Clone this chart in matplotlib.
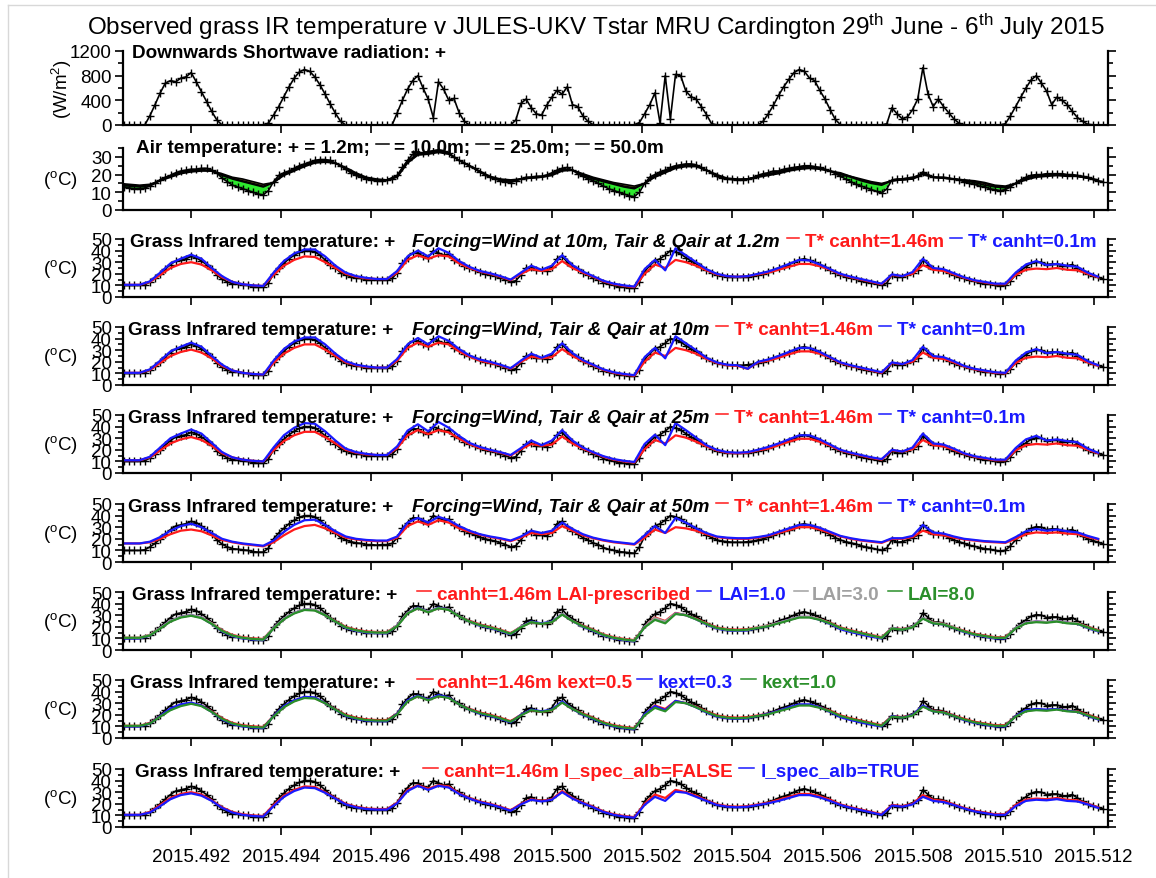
import numpy as np
import matplotlib
matplotlib.use('Agg')
import matplotlib.pyplot as plt
from matplotlib.lines import Line2D
from matplotlib.ticker import MultipleLocator

W, H = 1156, 879
plt.rcParams['font.family'] = ['Liberation Sans', 'DejaVu Sans']
plt.rcParams['mathtext.fontset'] = 'custom'
plt.rcParams['mathtext.rm'] = 'Liberation Sans'
plt.rcParams['mathtext.it'] = 'Liberation Sans:italic'
plt.rcParams['mathtext.bf'] = 'Liberation Sans:bold'

# ---------------- data (hourly obs from 29 June 2015 00 UTC) ----------------
start_doy = 179  # 29 June (days elapsed in 2015)

sw_obs = [
    0,0,0,0,0,0,150,330,520,680,720,700,760,780,850,700,540,380,220,80,0,0,0,0,
    0,0,0,0,0,30,160,300,460,620,760,860,900,870,780,650,500,340,190,60,0,0,0,0,
    0,0,0,0,0,0,200,400,580,720,800,600,420,120,700,580,400,430,200,60,0,0,0,0,
    0,0,0,0,0,80,350,420,280,180,160,320,450,560,500,620,330,300,150,60,5,0,0,0,
    0,0,0,0,0,40,180,330,520,30,800,100,820,800,550,460,420,300,170,20,0,0,0,0,
    0,0,0,0,0,60,180,320,480,620,740,850,900,870,760,720,560,420,250,90,5,0,0,0,
    0,0,0,0,0,20,280,180,100,130,250,420,930,500,300,420,300,200,100,30,0,0,0,0,
    0,0,0,0,20,150,300,450,600,730,800,680,550,330,450,400,330,220,120,60,10,0,0,0]

tair_1p2m = [
    13,13,12.5,12,12,12.5,13.5,15,17,18.5,19.5,21,22,22.5,23,23,23.5,23.5,22.5,21,18,16,14,13,
    12,11,10,9,8.5,11,16,19.5,21,22,23.5,25,26,27,28,28.5,28.5,28,26.5,25,23,21,19.5,18.5,
    17.5,17,16.5,16.5,17,17.5,19.5,24,28,31.5,32.5,32,33,33.5,34,33.5,32,30,28,26.5,25,23.5,21.5,20,
    18.5,17.5,16.5,16,15.5,16.5,17.5,18.5,18.5,19,19,19.5,21,22.5,23.5,24,22.5,20.5,19,17.5,16.5,15,13.5,12,
    11,10,9,8,7.5,10,15,18.5,20,21.5,22.5,24,25,25.5,26,26,25.5,24,22.5,21,19,18,17.5,17.5,
    17,17,17.5,18,19.5,20.5,21,22,22,23,23.5,24,24.5,25,25,24.5,24,23,22,20.5,19,17.5,16,14.5,
    13.5,12.5,11.5,10.5,9.5,12,17,17.5,17.5,18,18.5,19,21.5,20,18.5,18.5,18.5,18,17.5,17,16,15,14.5,13.5,
    13,12,11.5,11,11.5,13,15,17,18.5,19.5,20,20,20.5,20.5,20.5,20.5,20,20,19.5,19,18.5,17.5,16.5,16]

# 2-hourly air temperature at upper levels
tair_10m = [
    14,13.5,13,14,17,19.5,21.5,22.5,23,22,19.5,17.5,
    16,14.5,13,15.5,20.5,23,25.5,27.5,28,26.5,23,20,
    18,17,17,19.5,27.5,32,32.5,33.5,32,28,25,21.5,
    18.5,17,16,17.5,18.5,19,20.5,23,22.5,19.5,17.5,16,
    14.5,13,12,15,19.5,22,24.5,25.5,25,22.5,19,17.5,
    17,17.5,19,20.5,21.5,23,24,24.5,23.5,22,20,18.5,
    16.5,15,14,16.5,17.5,18,21,18.5,18,17.5,16.5,15.5,
    14,13,12.5,15,18,19.5,20,20,19.5,19,18,16.5]
tair_25m = [
    14.5,14,13.5,14,16.5,19,21,22,22.5,22,20,18,
    16.5,15,13.5,15.5,20,22.5,25,27,27.5,26.5,23.5,20.5,
    18,17,17,19,27,31.5,32,33,32,28,25,21.5,
    18.5,17,16.5,17.5,18,18.5,20,22.5,22.5,20,18,16.5,
    15,13.5,12.5,15,19,21.5,24,25,25,22.5,19.5,17.5,
    17,17.5,19,20,21,22.5,23.5,24,23.5,22,20.5,19,
    17,15.5,14.5,16.5,17,17.5,20.5,18.5,18,17.5,17,16,
    15,13.5,13,15,17.5,19,19.5,19.5,19.5,19,18,16.5]
tair_50m = [
    15,14.5,14,14.5,16.5,18.5,20.5,21.5,22,22,20.5,18.5,
    17.5,16,14.5,15.5,19.5,22,24.5,26.5,27,26.5,24,21,
    18.5,17.5,17,18.5,26.5,31,31.5,32.5,31.5,28,25,22,
    19,17.5,17,17.5,18,18.5,19.5,22,22.5,20.5,18.5,17,
    15.5,14.5,13.5,15,18.5,21,23.5,24.5,24.5,22.5,20,18,
    17.5,17.5,18.5,19.5,20.5,22,23,23.5,23,22,21,19,
    17.5,16,15,16.5,17,17.5,20,18.5,18,17.5,17,16.5,
    15.5,14,13.5,15,17,18.5,19,19.5,19,19,18,17]

tgrass_obs = [
    10.5,10,10,10,10,10.5,13,16,20,24,28,31,32,33,35,34,31,28,24,19,15.5,13,11.5,11,
    10.5,10,9,8.5,8.5,12,20,25,29,33,36,38.5,40,40,39,36,32,28,25,21,19,17.5,16.5,16,
    15,15,14.5,15,15,16,21,29,34,38,38,35,34,40,38,36,37,32,30,27,25,23.5,21.5,20,
    19,18,16.5,15,13,14,19,25,26,23,23,22.5,26,33,35,30,27,24,21,19,16.5,15,12.5,11,
    10,9,8.5,8,7.5,13,22,27,31,33,36,40,39,37,34,31,29,26,23,21,19,18,17.5,17,
    17,17,17.5,18,19,20,21.5,23,25,26.5,28,30,32,33,31.5,30,28,26,23.5,21,19,17.5,16.5,15.5,
    14,13,12,11,10,12,19,17,17.5,19,21,23,32,28,24,24,23,21,19,17.5,16,14.5,13.5,12.5,
    11.5,11,10,9.5,10,14,19,23,26,29,30.5,30,28,28.5,28.5,27,27,28,25,22,20,18.5,17,15.5]

# ---------------- JULES T* (2-hourly) ----------------
tstar_canht146_f12 = [
    10.5,10.5,10.5,13,19,25,28.5,30,28,23,17,13,
    11,10,9.5,19,27,32,35,34.5,30,25,20,17.5,
    16,15.5,15.5,21,32,36,33,36,35,29,25,22,
    20,17.5,14.5,20,24,22.5,24,31,25,21,17.5,13.5,
    11,9.5,8.5,20,28,25,32,30,27,23,19.5,18,
    17.5,18,19.5,21,23.5,26,28.5,28.5,26.5,23.5,19.5,17,
    15,13,11,19,18,20,27.5,23.5,22.5,19.5,16.5,14,
    12.5,11,11,19,23.5,24.5,24,25,23.5,23,20,17]
tstar_canht01_f12 = [
    10.5,10.5,10.5,13.5,21,29,33,36.5,33,25,18,13,
    11,10,9.5,21,31,37.5,41,41,35,27,21,18,
    16.5,15.5,15.5,22.5,35,40,35,42,38,31,26,22.5,
    20.5,18,15,21,27,23.5,27,36,27.5,22,18,14,
    11.5,10,9,24,32,23,42,36,30,24,20,18,
    17.5,18,20,22,25,28.5,32,31.5,28,24,20,17.5,
    15.5,13.5,11.5,19.5,18,21.5,33,25,24,20.5,17,14.5,
    13,11.5,11.5,21,28,31,27.5,28.5,27,26,21,17.5]
tstar_canht146_f10 = [
    10.5,10.5,10.5,13,19,25,28.5,30.5,28,23,16.5,12.5,
    10.5,9.5,9,19,27,32,35,35,30.5,25,19.5,17,
    15.5,15,15,21,32,36.5,33,36.5,35,29,24.5,21,
    19,17,14,20,24.5,23,24,31,25,20.5,17,13,
    10.5,9,8,20,28,25,32,30,27,22.5,19,17,
    16.5,14,19.5,21,23.5,26.5,29,29,27,23.5,19,16.5,
    14.5,12.5,10.5,19,18,20,28,23.5,22.5,19.5,16,13.5,
    12,10.5,10,19,23.5,24.5,24,25,23.5,23,19.5,16.5]
tstar_canht01_f10 = [
    10.5,10.5,10.5,13.5,21,29,33,36.5,33,25,17.5,12.5,
    10.5,9.5,9,21,31,37.5,41,41,35,27,20.5,17.5,
    16,15,15,22.5,35,40.5,35,42,38,31,25.5,22,
    20,17.5,14.5,21,27,23.5,27,36,27.5,21.5,17.5,13.5,
    11,9.5,8.5,24,32,23,42,36,30,23.5,19.5,17.5,
    17,14,20,22,25,28.5,32,32,28.5,24,19.5,17,
    15,13,11,19.5,18,21.5,33,25,24,20.5,16.5,14,
    12.5,11,10.5,21,28,31,27.5,28.5,27,26,20.5,17]
tstar_canht146_f25 = [
    11,11,11,13.5,19.5,25.5,29,31,28.5,23.5,17,13.5,
    11.5,10.5,10,19.5,27.5,32.5,35.5,35.5,31,25.5,20,17.5,
    16,15.5,15.5,21.5,32.5,37,33.5,37,35,29.5,25,21.5,
    19.5,17.5,15,20.5,25,23.5,24.5,31.5,25.5,21,17.5,14,
    11.5,10,9,20.5,28.5,25.5,32.5,30.5,27,23,19.5,17.5,
    17,17.5,19.5,21,24,27,29.5,29.5,27,23.5,19.5,17,
    15,13,11.5,19.5,18.5,20.5,28.5,24,23,20,16.5,14,
    12.5,11,11,19.5,24,25,24.5,25.5,24,23.5,20,17]
tstar_canht01_f25 = [
    11,11,11,14,22,30,34,37.5,34,26,18,13.5,
    11.5,10.5,10,22,32.5,39,43,42.5,36,28,21,18,
    16.5,15.5,15.5,23,36.5,42,36,44,39,32,26,22.5,
    20,18,15.5,21.5,28,24,28,37,28,22,18,14.5,
    12,10.5,9.5,25,33,24,43,37,30.5,24,20,18,
    17.5,18,20,22.5,25.5,29,32.5,32.5,29,24.5,20,17.5,
    15.5,13.5,12,20,18.5,22,34,25.5,24.5,21,17,14.5,
    13,11.5,11.5,21.5,29,32,28,29,27.5,26.5,21,17.5]
tstar_canht146_f50 = [
    16,16,16,17,20,24,27,28,26.5,23,19,17,
    15.5,14.5,13.5,17,23,28,31,32,29,25,21,19.5,
    18.5,18,18,21,31,35,32,36,34,29,26,23.5,
    21.5,20,18,21,25,24,25,31,27,23,20.5,18.5,
    17,16,15,21,28,25,30,29,27,24,21.5,20.5,
    20,20,21,22.5,25,27.5,30,30,28,25,22,20,
    18.5,17.5,16.5,20,20,21.5,27,24,23,21,19.5,18.5,
    17.5,17,16.5,20,24,25.5,25,25.5,24.5,24,21.5,19.5]
tstar_canht01_f50 = [
    16,16,16,17.5,21.5,27,31,33,30,25,20,17.5,
    16,15,14,18.5,26,32,36,36.5,32,26.5,22,20,
    19,18.5,18.5,22,34,38,34,39,36,31,27,24,
    22,20.5,18.5,22,27,25,27,34,28.5,24,21,19,
    17.5,16.5,15.5,23,31,25,38,34,29,25,22,21,
    20.5,20.5,21.5,23,26,29,32,32,29.5,26,22.5,20.5,
    19,18,17,20.5,20.5,22.5,32,25.5,24.5,22,20,19,
    18,17.5,17,21.5,26.5,28.5,27,28,26.5,25.5,22.5,20]
tstar_lai1 = [
    10,10,10,12.5,19,25,28.5,30,28,22.5,16,12,
    10,9,8.5,19,27,32,35,34.5,30,24.5,19,16.5,
    15,14.5,14.5,21,32,36.5,33,36.5,35,29,24.5,21,
    19,16.5,13.5,20,24.5,23,24.5,31,25,20,16.5,12.5,
    10,8.5,7.5,20,27,24,31.5,30,26.5,22,18.5,17,
    16.5,17,19,20.5,23.5,26,28.5,28.5,26,22.5,18,15.5,
    13.5,11.5,10,19,17.5,20,27.5,23,22,19,15.5,13,
    11.5,10,10,19,23.5,24.5,24,25,23.5,22.5,19,16]
tstar_lai3 = [
    10.5,10.5,10.5,13,19,25,28.5,30,28,23,16.5,12.5,
    10.5,9.5,9,19,27,32,35,34.5,30,24.5,19.5,17,
    15.5,15,15,21,32,36,33,36,35,29,24.5,21.5,
    19.5,17,14,20,24,22.5,24,31,25,20.5,17,13,
    10.5,9,8,20,27.5,24.5,31.5,30,26.5,22.5,19,17.5,
    17,17.5,19.5,21,23.5,26,28.5,28.5,26.5,23,19,16.5,
    14.5,12.5,10.5,19,17.5,20,27.5,23.5,22.5,19.5,16,13.5,
    12,10.5,10.5,19,23.5,24.5,24,25,23.5,23,19.5,16.5]
tstar_lai8 = [
    10.5,10.5,10.5,12.5,18.5,24.5,28,29.5,27.5,22.5,16.5,12.5,
    10.5,9.5,9,18.5,26.5,31.5,34.5,34,30,24.5,19.5,17,
    15.5,15,15,20.5,31.5,36,32.5,36,34.5,29,24.5,21.5,
    19.5,17,14,19.5,24,22.5,24,30.5,25,20.5,17,13,
    10.5,9,8,19.5,26,23,31,30,26.5,22.5,19,17.5,
    17,17.5,19,20.5,23,25.5,28,28,26,23,19,16.5,
    14.5,12.5,10.5,18.5,17.5,19.5,27,23,22,19,16,13.5,
    12,10.5,10.5,18.5,23,24,23.5,24.5,23,22.5,19.5,16.5]
tstar_kext03 = [
    10,10,10,12.5,19,25.5,29,30.5,28,22.5,16,12,
    10,9,8.5,19,27.5,32.5,35.5,35,30,24.5,19,16.5,
    15,14.5,14.5,21,32.5,36.5,33,37,35,29,24.5,21,
    19,16.5,13.5,20,24.5,23,24.5,31.5,25,20,16.5,12.5,
    10,8.5,7.5,20.5,27.5,24,32,30,26.5,22,18.5,17,
    16.5,17,19,21,23.5,26.5,29,29,26.5,22.5,18,15.5,
    13.5,11.5,10,19,17.5,20,28,23,22,19,15.5,13,
    11.5,10,10,19,24,25,24.5,25,23.5,22.5,19,16]
tstar_kext10 = [
    10.5,10.5,10.5,12.5,18.5,24,27.5,29.5,27.5,22.5,16.5,12.5,
    10.5,9.5,9,18.5,26.5,31.5,34.5,34,30,24.5,19.5,17,
    15.5,15,15,20.5,31.5,36,32.5,36,34.5,29,24.5,21.5,
    19.5,17,14,19.5,24,22.5,24,30.5,25,20.5,17,13,
    10.5,9,8,19.5,26,23,31,30,26.5,22.5,19,17.5,
    17,17.5,19,20.5,23,25.5,28,28,26,23,19,16.5,
    14.5,12.5,10.5,18.5,17.5,19.5,27,23,22,19,16,13.5,
    12,10.5,10.5,18.5,23,24,23.5,24.5,23,22.5,19.5,16.5]
tstar_specalb = [
    10.5,10.5,10.5,12.5,18,24,27.5,29,27,22.5,16.5,12.5,
    10.5,9.5,9,18,26,31,34,33.5,29.5,24.5,19.5,17,
    15.5,15,15,20.5,31,35.5,32,35.5,34,28.5,24.5,21.5,
    19.5,17,14,19.5,23.5,22,23.5,30,24.5,20.5,17,13,
    10.5,9,8,19,26,22.5,30.5,29.5,26,22.5,19,17.5,
    17,17.5,19,20.5,22.5,25,27.5,27.5,25.5,22.5,19,16.5,
    14.5,12.5,10.5,18.5,17.5,19.5,26,22.5,21.5,19,16,13.5,
    12,10.5,10.5,18,22.5,23.5,23,24,22.5,22,19.5,16.5]

xtick_vals = [2015.492, 2015.494, 2015.496, 2015.498, 2015.500,
              2015.502, 2015.504, 2015.506, 2015.508, 2015.510, 2015.512]

# ---------------- helpers ----------------
def dec_year(hours):
    return 2015 + (start_doy + np.asarray(hours, dtype=float) / 24.0) / 365.0

h_obs = np.arange(len(tgrass_obs))
h_mod = np.arange(0, 2 * len(tstar_lai8), 2)
x_obs = dec_year(h_obs)
x_mod = dec_year(h_mod)

RED = '#ff1a1a'
BLUE = '#1a1aff'
GREEN = '#2a8f2a'
GRAY = '#a0a0a0'

fig = plt.figure(figsize=(W / 100, H / 100), dpi=100)
fig.patch.set_facecolor('white')

tops = [52, 149, 240, 328, 416, 505, 593, 681, 770]
bots = [126, 211, 298, 386, 474, 563, 651, 739, 828]
L, R = 123, 1108

axes = []
for t, b in zip(tops, bots):
    ax = fig.add_axes([L / W, 1 - b / H, (R - L) / W, (b - t) / H])
    ax.set_xlim(2015.4905, 2015.51232)
    ax.spines['top'].set_visible(False)
    for s in ('left', 'right', 'bottom'):
        ax.spines[s].set_linewidth(1.6)
    ax.set_xticks(xtick_vals)
    ax.tick_params(axis='both', which='major', direction='out', length=6,
                   width=1.2, labelsize=13.5, pad=2)
    ax.tick_params(axis='y', which='both', left=True, right=True)
    ax.tick_params(axis='y', which='minor', direction='out', length=3.5, width=1.2)
    ax.tick_params(axis='x', which='both', top=False)
    ax.set_facecolor('none')
    axes.append(ax)

for ax in axes[:-1]:
    ax.set_xticklabels([])
axes[-1].set_xticklabels(['%.3f' % v for v in xtick_vals])
axes[-1].tick_params(axis='x', pad=9)

obs_kw = dict(color='black', lw=1.2, marker='+', ms=6, mew=1.0)

# panel 1: shortwave
ax = axes[0]
ax.plot(x_obs, sw_obs, **obs_kw)
ax.set_ylim(0, 1200)
ax.yaxis.set_major_locator(MultipleLocator(400))
ax.yaxis.set_minor_locator(MultipleLocator(200))
ax.set_ylabel('(W/m$^{\\rm 2}$)', fontsize=13.5, rotation=90, va='center', ha='center')
ax.yaxis.set_label_coords(-0.062, 0.5)

# panel 2: air temperature
ax = axes[1]
t12_sub = np.asarray(tair_1p2m)[::2]
t10 = np.asarray(tair_10m)
t50 = np.asarray(tair_50m)
ax.fill_between(x_mod, t12_sub, t10, where=t10 > t12_sub, interpolate=True,
                color='#2ee82e', lw=0)
ax.fill_between(x_mod, t10, t50, where=t50 > t10, interpolate=True,
                color='#8a6a2a', lw=0)
ax.plot(x_mod, tair_50m, color='black', lw=1.2)
ax.plot(x_mod, tair_25m, color='black', lw=1.0)
ax.plot(x_mod, tair_10m, color='black', lw=1.2)
ax.plot(x_obs, tair_1p2m, **obs_kw)
ax.set_ylim(0, 35)
ax.yaxis.set_major_locator(MultipleLocator(10))
ax.yaxis.set_minor_locator(MultipleLocator(5))

panel_models = [
    [(tstar_canht146_f12, RED), (tstar_canht01_f12, BLUE)],
    [(tstar_canht146_f10, RED), (tstar_canht01_f10, BLUE)],
    [(tstar_canht146_f25, RED), (tstar_canht01_f25, BLUE)],
    [(tstar_canht146_f50, RED), (tstar_canht01_f50, BLUE)],
    [(tstar_canht146_f12, RED), (tstar_lai1, BLUE), (tstar_lai3, GRAY), (tstar_lai8, GREEN)],
    [(tstar_canht146_f12, RED), (tstar_kext03, BLUE), (tstar_kext10, GREEN)],
    [(tstar_canht146_f12, RED), (tstar_specalb, BLUE)],
]
for ax, models in zip(axes[2:], panel_models):
    ax.plot(x_obs, tgrass_obs, **obs_kw)
    for series, col in models:
        ax.plot(x_mod, series, color=col, lw=1.6)
    ax.set_ylim(0, 50)
    ax.yaxis.set_major_locator(MultipleLocator(10))
    ax.yaxis.set_minor_locator(MultipleLocator(5))

for ax in axes[1:]:
    ax.set_ylabel('($^{\\rm o}$C)', fontsize=13.5, rotation=0, va='center', ha='center')
    ax.yaxis.set_label_coords(-0.064, 0.5)

# ---------------- texts ----------------
fig.text(596 / W, 1 - 27 / H,
         'Observed grass IR temperature v JULES-UKV Tstar MRU Cardington 29$^{\\rm th}$ June - 6$^{\\rm th}$ July 2015',
         ha='center', va='center', fontsize=17.5)

renderer = fig.canvas.get_renderer()
FS = 13.6

def chain(x0, base, pieces):
    """pieces: (kind, text_or_width, color, style, gap)"""
    x = x0
    for kind, s, col, style, gap in pieces:
        x += gap
        if kind == 'dash':
            yy = 1 - (base - 8) / H
            fig.add_artist(Line2D([x / W, (x + s) / W], [yy, yy], color=col,
                                  lw=1.1, transform=fig.transFigure))
            x += s
        else:
            t = fig.text(x / W, 1 - base / H, s, ha='left', va='baseline',
                         fontsize=FS, fontweight='bold', fontstyle=style, color=col)
            bb = t.get_window_extent(renderer=renderer)
            x = bb.x1

N, I = 'normal', 'italic'
chain(132, tops[0] + 6, [('t', 'Downwards Shortwave radiation: +', 'black', N, 0)])
chain(136, tops[1] + 4, [('t', 'Air temperature: + = 1.2m;', 'black', N, 0),
                         ('dash', 13, 'black', N, 6), ('t', '= 10.0m;', 'black', N, 5),
                         ('dash', 13, 'black', N, 6), ('t', '= 25.0m;', 'black', N, 5),
                         ('dash', 13, 'black', N, 6), ('t', '= 50.0m', 'black', N, 5)])

forcings = ['Forcing=Wind at 10m, Tair & Qair at 1.2m',
            'Forcing=Wind, Tair & Qair at 10m',
            'Forcing=Wind, Tair & Qair at 25m',
            'Forcing=Wind, Tair & Qair at 50m']
grass_x = [130, 128, 128, 128]
for f, top, gx in zip(forcings, tops[2:6], grass_x):
    bl = top + 7
    chain(gx, bl, [('t', 'Grass Infrared temperature: +', 'black', N, 0)])
    chain(412, bl, [('t', f, 'black', I, 0),
                    ('dash', 12, RED, N, 7), ('t', 'T* canht=1.46m', RED, N, 6),
                    ('dash', 12, BLUE, N, 6), ('t', 'T* canht=0.1m', BLUE, N, 6)])

chain(132, tops[6] + 7, [('t', 'Grass Infrared temperature: +', 'black', N, 0),
                         ('dash', 14, RED, N, 20), ('t', 'canht=1.46m LAI-prescribed', RED, N, 6),
                         ('dash', 14, BLUE, N, 7), ('t', 'LAI=1.0', BLUE, N, 7),
                         ('dash', 14, GRAY, N, 8), ('t', 'LAI=3.0', GRAY, N, 4),
                         ('dash', 14, GREEN, N, 8), ('t', 'LAI=8.0', GREEN, N, 6)])
chain(130, tops[7] + 7, [('t', 'Grass Infrared temperature: +', 'black', N, 0),
                         ('dash', 16, RED, N, 22), ('t', 'canht=1.46m kext=0.5', RED, N, 4),
                         ('dash', 15, BLUE, N, 5), ('t', 'kext=0.3', BLUE, N, 5),
                         ('dash', 15, GREEN, N, 8), ('t', 'kext=1.0', GREEN, N, 6)])
chain(135, tops[8] + 7, [('t', 'Grass Infrared temperature: +', 'black', N, 0),
                         ('dash', 15, RED, N, 23), ('t', 'canht=1.46m l_spec_alb=FALSE', RED, N, 6),
                         ('dash', 15, BLUE, N, 6), ('t', 'l_spec_alb=TRUE', BLUE, N, 7)])

# light screenshot border (top and left)
fig.add_artist(Line2D([8 / W, 1], [1 - 6 / H, 1 - 6 / H], color='#d8d8d8', lw=1,
                      transform=fig.transFigure))
fig.add_artist(Line2D([8 / W, 8 / W], [0, 1 - 6 / H], color='#d8d8d8', lw=1,
                      transform=fig.transFigure))

fig.savefig('out.png', dpi=100, facecolor='white')
